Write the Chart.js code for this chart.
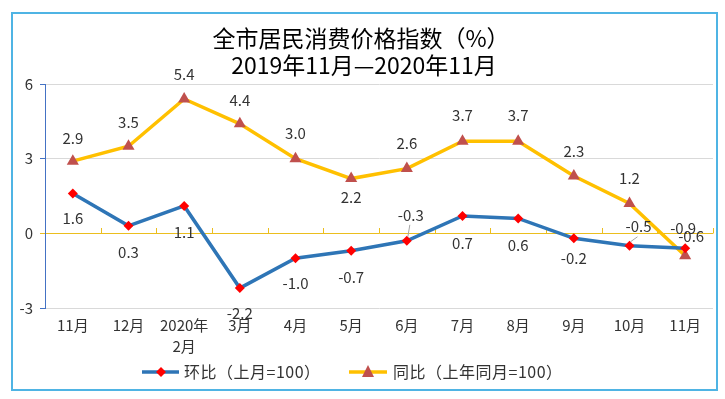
<!DOCTYPE html>
<html><head><meta charset="utf-8">
<script src="https://cdn.jsdelivr.net/npm/chart.js@4.4.1/dist/chart.umd.min.js"></script>
<style>
html,body{margin:0;padding:0;background:#fff;}
#wrap{position:relative;width:725px;height:399px;}
#frame{position:absolute;left:11px;top:12px;width:707px;height:379px;border:2px solid #4FB4E4;box-sizing:border-box;pointer-events:none;}
canvas{position:absolute;left:0;top:0;}
</style></head>
<body><div id="wrap"><canvas id="c" width="725" height="399"></canvas><div id="frame"></div></div>
<script>
const categories = ['11月','12月',['2020年','2月'],'3月','4月','5月','6月','7月','8月','9月','10月','11月'];
const momValues = [1.6,0.3,1.1,-2.2,-1.0,-0.7,-0.3,0.7,0.6,-0.2,-0.5,-0.6];
const yoyValues = [2.9,3.5,5.4,4.4,3.0,2.2,2.6,3.7,3.7,2.3,1.2,-0.9];
const yTicks = [-3,0,3,6];
const titleLines = ['全市居民消费价格指数（%）','2019年11月—2020年11月'];
const seriesNames = ['环比（上月=100）','同比（上年同月=100）'];

// label placement (style): [dx, dy, leader]
const momLabelPos = [[0,25],[0,26],[0,26],[0,25],[0,25],[0,27],[4,-26,1],[0,27],[0,27],[0,20],[9,-19,1],[6,-12]];
const yoyLabelPos = [[0,-23],[0,-24],[0,-25],[0,-24],[0,-25],[0,19],[0,-25],[0,-26],[0,-26],[0,-25],[0,-25],[-2,-27]];

const FONT = '"Noto Sans CJK SC", "Noto Sans", sans-serif';
const TXT = '#333333';
const BLUE = '#2E75B6', GOLD = '#FFC000', RED = '#FF0000', TRI = '#C0504D', ZERO = '#EBBE1E';

const overlay = {
  id: 'overlay',
  beforeDatasetsDraw(chart) {
    const {ctx, scales:{x,y}} = chart;
    const y0 = y.getPixelForValue(0);
    ctx.save();
    ctx.strokeStyle = ZERO; ctx.lineWidth = 1;
    for (let i = 1; i <= categories.length; i++) {
      const xb = i < categories.length ? (x.getPixelForValue(i-1) + x.getPixelForValue(i)) / 2 : chart.chartArea.right;
      const xx = Math.round(xb) + 0.5;
      ctx.beginPath(); ctx.moveTo(xx, Math.round(y0)+0.5); ctx.lineTo(xx, Math.round(y0) - 5); ctx.stroke();
    }
    ctx.restore();
  },
  afterDatasetsDraw(chart) {
    const {ctx} = chart;
    ctx.save();
    ctx.font = '15px ' + FONT;
    ctx.fillStyle = TXT;
    ctx.textAlign = 'center';
    ctx.textBaseline = 'middle';
    const sets = [[0, momValues, momLabelPos],[1, yoyValues, yoyLabelPos]];
    sets.forEach(([di, vals, pos]) => {
      const meta = chart.getDatasetMeta(di);
      meta.data.forEach((pt, i) => {
        const [dx, dy, leader] = pos[i];
        const lx = pt.x + dx, ly = pt.y + dy;
        if (leader) {
          ctx.save();
          ctx.strokeStyle = '#A6A6A6'; ctx.lineWidth = 1;
          ctx.beginPath();
          ctx.moveTo(lx - 1, ly + 10);
          ctx.lineTo(pt.x + 1, pt.y - 4);
          ctx.stroke();
          ctx.restore();
        }
        ctx.fillText(vals[i].toFixed(1), lx, ly);
      });
    });
    ctx.restore();
  },
  afterDraw(chart) {
    const {ctx} = chart;
    ctx.save();
    // title
    ctx.fillStyle = '#000';
    ctx.textAlign = 'center';
    ctx.textBaseline = 'middle';
    ctx.font = '23px ' + FONT;
    ctx.fillText(titleLines[0], 361, 38);
    ctx.fillText(titleLines[1], 364, 65);
    // legend
    const ly = 372;
    ctx.lineWidth = 3.5;
    ctx.strokeStyle = BLUE;
    ctx.beginPath(); ctx.moveTo(142, ly); ctx.lineTo(179, ly); ctx.stroke();
    ctx.fillStyle = RED;
    ctx.beginPath(); ctx.moveTo(161, ly-5); ctx.lineTo(166, ly); ctx.lineTo(161, ly+5); ctx.lineTo(156, ly); ctx.closePath(); ctx.fill();
    ctx.strokeStyle = GOLD;
    ctx.beginPath(); ctx.moveTo(349, ly); ctx.lineTo(387, ly); ctx.stroke();
    ctx.fillStyle = TRI;
    ctx.beginPath(); ctx.moveTo(368, ly-7); ctx.lineTo(374, ly+5); ctx.lineTo(362, ly+5); ctx.closePath(); ctx.fill();
    ctx.fillStyle = TXT;
    ctx.textAlign = 'left';
    ctx.font = '16px ' + FONT;
    try { ctx.letterSpacing = '0.5px'; } catch (e) {}
    ctx.fillText(seriesNames[0], 184, ly);
    ctx.fillText(seriesNames[1], 393, ly);
    ctx.restore();
  }
};

new Chart(document.getElementById('c'), {
  type: 'line',
  data: {
    labels: categories,
    datasets: [
      { label: seriesNames[0], data: momValues, borderColor: BLUE, backgroundColor: RED,
        borderWidth: 3.5, pointStyle: 'rectRot', pointRadius: 5, pointBorderWidth: 0,
        pointBackgroundColor: RED, pointBorderColor: RED, tension: 0, clip: false },
      { label: seriesNames[1], data: yoyValues, borderColor: GOLD, backgroundColor: TRI,
        borderWidth: 3.5, pointStyle: 'triangle', pointRadius: 7, pointBorderWidth: 0,
        pointBackgroundColor: TRI, pointBorderColor: TRI, tension: 0, clip: false }
    ]
  },
  options: {
    responsive: false,
    devicePixelRatio: 1,
    animation: false,
    layout: { padding: { top: 84, right: 12, left: 0, bottom: 0 } },
    plugins: { legend: { display: false }, title: { display: false }, tooltip: { enabled: false } },
    scales: {
      x: {
        offset: true,
        grid: { display: false, drawTicks: false },
        border: { display: false },
        ticks: { color: TXT, font: { family: FONT, size: 15, lineHeight: 1.4 }, padding: 7, maxRotation: 0, autoSkip: false },
        afterFit(s) { s.height = 91; }
      },
      y: {
        min: -3, max: 6,
        afterBuildTicks(s) { s.ticks = yTicks.map(v => ({ value: v })); },
        grid: {
          color: c => (c.tick && c.tick.value === 0) ? ZERO : '#D9D9D9',
          tickColor: c => (c.tick && c.tick.value === 0) ? ZERO : '#4472C4',
          tickLength: 5, lineWidth: 1
        },
        border: { display: true, color: '#4472C4', width: 1 },
        ticks: { color: TXT, font: { family: FONT, size: 15 }, padding: 7 },
        afterFit(s) { s.width = 45; }
      }
    }
  },
  plugins: [overlay]
});
</script>
</body></html>
